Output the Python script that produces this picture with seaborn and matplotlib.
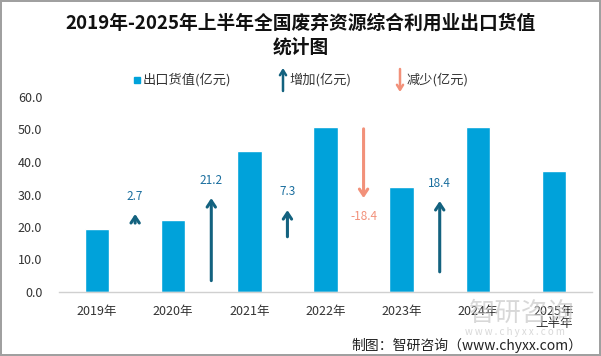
import matplotlib
matplotlib.use("Agg")
import matplotlib.pyplot as plt
import seaborn as sns
import pandas as pd
from matplotlib.patches import Rectangle

# ---- data ----
categories = ["2019年", "2020年", "2021年", "2022年", "2023年", "2024年", "2025年\n上半年"]
values = [19.5, 22.2, 43.4, 50.7, 32.3, 50.7, 37.2]
changes = [2.7, 21.2, 7.3, -18.4, 18.4]
arrow_start = [21.2, 3.5, 17.0, 50.2, 6.2]
arrow_end = [24.0, 28.9, 25.2, 28.9, 28.0]
label_y = [29.5, 34.3, 30.9, 23.2, 33.5]
y_ticks = [0, 10, 20, 30, 40, 50, 60]

title = "2019年-2025年上半年全国废弃资源综合利用业出口货值\n统计图"
legend_labels = ["出口货值(亿元)", "增加(亿元)", "减少(亿元)"]
source = "制图：智研咨询（www.chyxx.com）"

BAR = "#00A2DA"
UP = "#13627F"
UP_TXT = "#1A6E9E"
DOWN = "#F2917A"

sns.set_style("white")
plt.rcParams["font.family"] = ["Noto Sans CJK SC", "DejaVu Sans"]

W, H = 601, 356
fig = plt.figure(figsize=(W / 100, H / 100), dpi=100)
fig.patch.set_edgecolor("#A0A0A0")
fig.patch.set_linewidth(1.5)
ax = fig.add_axes([59 / W, 1 - 292 / H, (592 - 59) / W, (292 - 97) / H])

df = pd.DataFrame({"cat": categories, "val": values})
sns.barplot(data=df, x="cat", y="val", color=BAR, saturation=1, width=0.32, ax=ax)

for i, ch in enumerate(changes):
    x = i + 0.5
    col = UP if ch > 0 else DOWN
    tcol = UP_TXT if ch > 0 else DOWN
    ax.annotate("", xy=(x, arrow_end[i]), xytext=(x, arrow_start[i]),
                arrowprops=dict(arrowstyle="->,head_length=0.45,head_width=0.3",
                                color=col, lw=2.2, shrinkA=0, shrinkB=0))
    ax.text(x, label_y[i], f"{ch:.1f}", ha="center", va="center",
            fontsize=8.5, color=tcol)

ax.set_xlim(-0.5, 6.5)
ax.set_ylim(0, 60)
ax.set_yticks(y_ticks)
ax.set_yticklabels([f"{v:.1f}" for v in y_ticks])
ax.set_xlabel("")
ax.set_ylabel("")
for s in ["top", "right", "left"]:
    ax.spines[s].set_visible(False)
ax.spines["bottom"].set_color("#D0D0D0")
ax.spines["bottom"].set_linewidth(1)
ax.tick_params(axis="y", length=0, pad=12, labelsize=9, labelcolor="#333333")
ax.tick_params(axis="x", length=0, pad=9, labelsize=9, labelcolor="#333333")
for lab in ax.get_xticklabels():
    lab.set_linespacing(1.0)

# title
fig.text(0.5, 1 - 35 / H, title, ha="center", va="center", fontsize=13.5,
         fontweight="bold", color="#111111", linespacing=1.3)

# legend (manual)
def fx(px):
    return px / W

def fy(py):
    return 1 - py / H

fig.patches.append(Rectangle((fx(134), fy(83)), 6 / W, 6 / H, transform=fig.transFigure,
                             color=BAR, figure=fig))
fig.text(fx(143), fy(80), legend_labels[0], ha="left", va="center", fontsize=9.5, color="#333333")
ax.annotate("", xy=(fx(283), fy(68)), xytext=(fx(283), fy(91)), xycoords="figure fraction",
            textcoords="figure fraction",
            arrowprops=dict(arrowstyle="->,head_length=0.35,head_width=0.22", color=UP, lw=1.8,
                            shrinkA=0, shrinkB=0))
fig.text(fx(289), fy(80), legend_labels[1], ha="left", va="center", fontsize=9.5, color="#333333")
ax.annotate("", xy=(fx(400), fy(92)), xytext=(fx(400), fy(69)), xycoords="figure fraction",
            textcoords="figure fraction",
            arrowprops=dict(arrowstyle="->,head_length=0.35,head_width=0.22", color=DOWN, lw=1.8,
                            shrinkA=0, shrinkB=0))
fig.text(fx(407), fy(80), legend_labels[2], ha="left", va="center", fontsize=9.5, color="#333333")

# watermark (faint logo text)
fig.text(fx(522), fy(313), "智研咨询", ha="center", va="center", fontsize=19,
         color="#C8C8C8", alpha=0.7, zorder=0)
fig.text(fx(465), fy(332), "w w w . c h y x x . c o m", ha="left", va="center", fontsize=7,
         color="#C8C8C8", alpha=0.7, zorder=0)

# source
fig.text(fx(582), fy(345), source, ha="right", va="center", fontsize=10, color="#222222")

fig.savefig("out.png", dpi=100, edgecolor=fig.get_edgecolor())
